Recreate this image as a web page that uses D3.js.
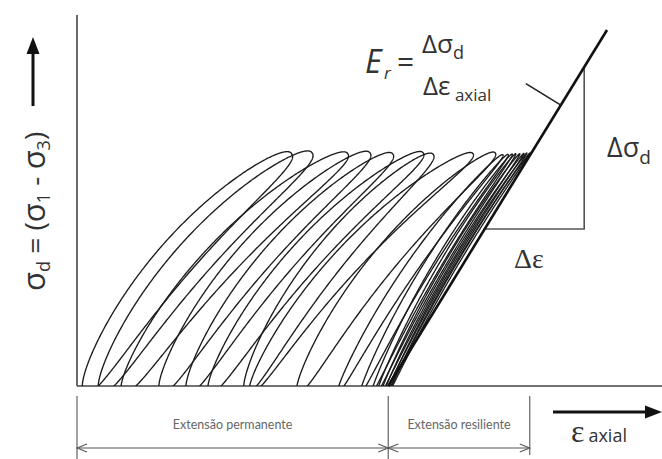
<!DOCTYPE html>
<html><head><meta charset="utf-8">
<script src="https://cdn.jsdelivr.net/npm/d3@7"></script>
<style>body{margin:0;background:#fff}svg{display:block}</style>
</head><body>
<svg id="c" width="662" height="459"></svg>
<script>
// ---- data (strain / stress in arbitrary units) ----
const loopPeakStrain = [36.7, 40.2, 46.3, 50.1, 54.0, 59.2, 60.9, 67.7, 71.5, 72.8, 73.7, 74.4, 75.0, 75.7, 76.4, 76.9, 77.4];
const loopPeakStress = [62.6, 62.8, 62.6, 62.8, 62.5, 62.8, 62.4, 62.6, 62.8, 62.3, 62.4, 62.5, 62.6, 62.6, 62.7, 62.8, 62.8];
const loopBaseStrain = [1.4, 4.1, 7.9, 14.4, 19.0, 22.7, 28.9, 29.7, 37.8, 44.6, 48.5, 50.4, 51.3, 52.0, 52.5, 53.0, 53.3];
const loopWidth      = [8.6, 8.6, 8.2, 7.9, 7.5, 7.2, 6.8, 6.4, 5.6, 2.6, 2.0, 1.6, 1.3, 1.1, 0.9, 0.75, 0.55];
const resilientStrain = [53.2, 90.6];
const resilientStress = [0, 95.96];
const triangleStress = 42.3;   // lower edge of slope triangle
const triangleStrain = 86.7;   // right edge of slope triangle
const tickStress = 75.7;       // where the slope tick sits
const dimBounds = [0, 53.2, 77.4];
const dimLabels = ["Extensão permanente", "Extensão resiliente"];

const svg = d3.select("#c");
const x = d3.scaleLinear().domain([0, 100]).range([77, 662]);
const y = d3.scaleLinear().domain([0, 100]).range([386, 15]);
const ink = "#1c1c1c";

// axes (plain lines, no ticks)
svg.append("line").attr("x1", x(0)).attr("x2", x(0)).attr("y1", y(0)).attr("y2", y(100))
  .attr("stroke", "#444").attr("stroke-width", 1.6);
svg.append("line").attr("x1", x(0)).attr("x2", x(100)).attr("y1", y(0)).attr("y2", y(0))
  .attr("stroke", "#444").attr("stroke-width", 1.6);

// loops: leaf shapes along a curved spine
svg.append("clipPath").attr("id", "clip").append("rect")
  .attr("x", x(0)).attr("y", 0).attr("width", x(100) - x(0)).attr("height", y(0));
const gl = svg.append("g").attr("clip-path", "url(#clip)");
const loopPath = (i) => {
  const T = [x(loopPeakStrain[i]), y(loopPeakStress[i])];
  const B = [x(loopBaseStrain[i]), y(-1.8)];
  const cx = T[0] - B[0], cy = T[1] - B[1];
  const Lc = Math.hypot(cx, cy);
  const ex = cx / Lc, ey = cy / Lc;
  const px = ey, py = -ex; // upper-left perpendicular
  const w = loopWidth[i];
  const bend = Lc * (0.04 + 0.08 * Math.min(1, w / 6));
  const C = [(B[0] + T[0]) / 2 + px * bend, (B[1] + T[1]) / 2 + py * bend];
  const hwMax = (x(loopBaseStrain[i] + w) - x(loopBaseStrain[i])) / 2 * Math.abs(ey);
  const spine = u => [
    (1 - u) * (1 - u) * B[0] + 2 * u * (1 - u) * C[0] + u * u * T[0],
    (1 - u) * (1 - u) * B[1] + 2 * u * (1 - u) * C[1] + u * u * T[1]];
  const tang = u => {
    const tx = 2 * (1 - u) * (C[0] - B[0]) + 2 * u * (T[0] - C[0]);
    const ty = 2 * (1 - u) * (C[1] - B[1]) + 2 * u * (T[1] - C[1]);
    const l = Math.hypot(tx, ty);
    return [tx / l, ty / l];
  };
  const prof = u => hwMax * Math.pow(Math.max(0, 4 * u * (1 - u)), 0.42);
  const pts = [];
  const us = d3.range(0, 241).map(k => (1 - Math.cos(Math.PI * k / 240)) / 2);
  us.forEach(u => { const s = spine(u), t = tang(u), h = prof(u);
    pts.push([s[0] + t[1] * h, s[1] - t[0] * h]); });
  us.slice().reverse().forEach(u => { const s = spine(u), t = tang(u), h = prof(u);
    pts.push([s[0] - t[1] * h, s[1] + t[0] * h]); });
  return d3.line().curve(d3.curveLinearClosed)(pts);
};
gl.selectAll("path.loop").data(d3.range(loopPeakStrain.length)).join("path")
  .attr("class", "loop").attr("d", loopPath)
  .attr("fill", "none").attr("stroke", ink).attr("stroke-width", 1.35);

// resilient modulus line
const lineAt = s => resilientStrain[0] + (resilientStrain[1] - resilientStrain[0]) * (s - resilientStress[0]) / (resilientStress[1] - resilientStress[0]);
const stressAt = e => resilientStress[0] + (resilientStress[1] - resilientStress[0]) * (e - resilientStrain[0]) / (resilientStrain[1] - resilientStrain[0]);
svg.append("path")
  .attr("d", d3.line()([[x(lineAt(triangleStress)), y(triangleStress)], [x(triangleStrain), y(triangleStress)], [x(triangleStrain), y(stressAt(triangleStrain))]]))
  .attr("fill", "none").attr("stroke", "#555").attr("stroke-width", 1.6);
svg.append("line")
  .attr("x1", x(resilientStrain[0])).attr("y1", y(resilientStress[0]))
  .attr("x2", x(resilientStrain[1])).attr("y2", y(resilientStress[1]))
  .attr("stroke", "#111").attr("stroke-width", 2.6);
{
  const px = x(lineAt(tickStress)), py = y(tickStress);
  const dx = x(resilientStrain[1]) - x(resilientStrain[0]), dy = y(resilientStress[1]) - y(resilientStress[0]);
  const len = Math.hypot(dx, dy);
  const nx = dy / len, ny = -dx / len;
  svg.append("line").attr("x1", px).attr("y1", py)
    .attr("x2", px + nx * 41).attr("y2", py + ny * 41)
    .attr("stroke", "#222").attr("stroke-width", 1.6);
}

// dimension lines below axis
const dimY = 448, dimCol = "#555";
dimBounds.forEach((b, i) => {
  svg.append("line").attr("x1", x(b)).attr("x2", x(b)).attr("y1", 396).attr("y2", i === 2 ? 455 : 459)
    .attr("stroke", dimCol).attr("stroke-width", 1.1);
});
svg.append("line").attr("x1", x(dimBounds[0])).attr("x2", x(dimBounds[2])).attr("y1", dimY).attr("y2", dimY)
  .attr("stroke", dimCol).attr("stroke-width", 1.1);
const arrowOpen = (xp, dir) => {
  svg.append("path").attr("d", d3.line()([[xp + dir * 10, dimY - 4], [xp, dimY], [xp + dir * 10, dimY + 4]]))
    .attr("fill", "none").attr("stroke", dimCol).attr("stroke-width", 1.1);
};
arrowOpen(x(dimBounds[0]), 1);
arrowOpen(x(dimBounds[1]), -1);
arrowOpen(x(dimBounds[1]), 1);
arrowOpen(x(dimBounds[2]), -1);
dimLabels.forEach((t, i) => {
  svg.append("text").attr("x", (x(dimBounds[i]) + x(dimBounds[i + 1])) / 2).attr("y", 429)
    .attr("text-anchor", "middle").attr("font-family", "Lato, 'Open Sans', sans-serif")
    .attr("font-size", 12.5).attr("fill", "#666").text(t);
});

// arrows
svg.append("line").attr("x1", 33).attr("x2", 33).attr("y1", 106).attr("y2", 50)
  .attr("stroke", "#111").attr("stroke-width", 3);
svg.append("path").attr("d", "M33,37 L39.5,54 L26.5,54 Z").attr("fill", "#111");
svg.append("line").attr("x1", 553).attr("x2", 650).attr("y1", 412).attr("y2", 412)
  .attr("stroke", "#111").attr("stroke-width", 2.8);
svg.append("path").attr("d", "M662,412 L645,405.5 L645,418.5 Z").attr("fill", "#111");

const sans = "'Open Sans', 'Noto Sans', sans-serif";
const serif = "'Liberation Serif', 'DejaVu Serif', serif";
const txt = "#333";

// y-axis label
{
  const t = svg.append("text").attr("transform", "translate(45,291) rotate(-90)")
    .attr("font-family", sans).attr("font-size", 28).attr("fill", txt);
  t.append("tspan").attr("font-size", 31).text("σ");
  t.append("tspan").attr("font-size", 18).attr("dy", 5).text("d");
  t.append("tspan").attr("dy", -5).text(" = (");
  t.append("tspan").attr("font-size", 31).text("σ");
  t.append("tspan").attr("font-size", 18).attr("dy", 5).text("1");
  t.append("tspan").attr("dy", -5).text(" - ");
  t.append("tspan").attr("font-size", 31).text("σ");
  t.append("tspan").attr("font-size", 18).attr("dy", 5).text("3");
  t.append("tspan").attr("dy", -5).text(")");
}

// E_r formula
svg.append("text").attr("x", 365).attr("y", 73).attr("font-family", sans).attr("font-style", "italic")
  .attr("font-size", 32).attr("fill", txt).text("E");
svg.append("text").attr("x", 384).attr("y", 79).attr("font-family", sans).attr("font-style", "italic")
  .attr("font-size", 17).attr("fill", txt).text("r");
svg.append("text").attr("x", 397).attr("y", 72).attr("font-family", sans)
  .attr("font-size", 30).attr("fill", txt).text("=");
{
  const t = svg.append("text").attr("x", 422).attr("y", 53).attr("font-family", sans).attr("font-size", 26).attr("fill", txt);
  t.append("tspan").text("Δσ");
  t.append("tspan").attr("font-size", 18).attr("dy", 6).text("d");
  const u = svg.append("text").attr("x", 423).attr("y", 95).attr("font-family", sans).attr("font-size", 26).attr("fill", txt);
  u.append("tspan").text("Δε");
  u.append("tspan").attr("font-size", 17).attr("dy", 6).text(" axial");
}
{
  const t = svg.append("text").attr("x", 607).attr("y", 157).attr("font-family", sans).attr("font-size", 27).attr("fill", txt);
  t.append("tspan").text("Δσ");
  t.append("tspan").attr("font-size", 19).attr("dy", 7).text("d");
}
svg.append("text").attr("x", 514).attr("y", 268).attr("font-family", serif).attr("font-size", 28)
  .attr("fill", txt).text("Δε");
{
  const t = svg.append("text").attr("x", 571).attr("y", 442).attr("fill", txt);
  t.append("tspan").attr("font-family", serif).attr("font-size", 32).text("ε");
  t.append("tspan").attr("font-family", sans).attr("font-size", 18).attr("dx", 4).text("axial");
}
</script>
</body></html>
